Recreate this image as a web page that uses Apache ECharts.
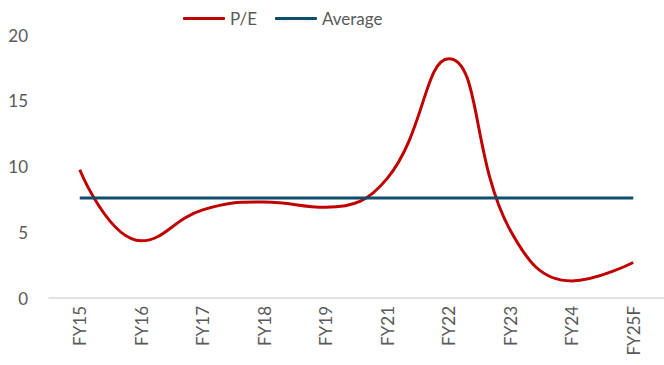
<!DOCTYPE html>
<html>
<head>
<meta charset="utf-8">
<script src="https://cdn.jsdelivr.net/npm/echarts@6/dist/echarts.min.js"></script>
<style>
  html, body { margin: 0; padding: 0; background: #fff; }
  #chart { width: 664px; height: 365px; }
</style>
</head>
<body>
<div id="chart"></div>
<script>
var categories = ['FY15', 'FY16', 'FY17', 'FY18', 'FY19', 'FY21', 'FY22', 'FY23', 'FY24', 'FY25F'];
var peValues = [9.75, 4.35, 6.7, 7.3, 6.9, 9.1, 18.2, 5.15, 1.3, 2.7];
var averageValue = 7.6;
var averageValues = categories.map(function() { return averageValue; });
var yTicks = [0, 5, 10, 15, 20];

(function() {
  var red = '#C00000';
  var navy = '#0E4D6C';
  var muted = '#595959';
  var font = 'Lato, "Open Sans", sans-serif';

  var chart = echarts.init(document.getElementById('chart'), null, { renderer: 'svg' });

  chart.setOption({
    backgroundColor: '#fff',
    animation: false,
    textStyle: { fontFamily: font },
    legend: {
      data: ['P/E', 'Average'],
      top: 5,
      left: 178,
      itemWidth: 42,
      itemHeight: 3,
      itemGap: 18,
      icon: 'roundRect',
      textStyle: { color: muted, fontSize: 17, fontFamily: font }
    },
    grid: { left: 49, right: -7, top: 35, bottom: 67 },
    xAxis: {
      type: 'category',
      data: categories,
      boundaryGap: true,
      axisLine: { lineStyle: { color: '#D9D9D9', width: 1.5 } },
      axisTick: { show: false },
      axisLabel: {
        rotate: 90,
        color: muted,
        fontSize: 17,
        fontFamily: font,
        margin: 8
      }
    },
    yAxis: {
      type: 'value',
      min: yTicks[0],
      max: yTicks[yTicks.length - 1],
      interval: 5,
      splitLine: { show: false },
      axisLine: { show: false },
      axisTick: { show: false },
      axisLabel: { color: muted, fontSize: 17, fontFamily: font, margin: 21 }
    },
    series: [
      {
        name: 'P/E',
        type: 'line',
        data: peValues,
        smooth: 0.45,
        symbol: 'none',
        lineStyle: { color: red, width: 3 },
        itemStyle: { color: red }
      },
      {
        name: 'Average',
        type: 'line',
        data: averageValues,
        symbol: 'none',
        lineStyle: { color: navy, width: 3 },
        itemStyle: { color: navy }
      }
    ]
  });

  window.addEventListener('resize', function() { chart.resize(); });
})();
</script>
</body>
</html>
